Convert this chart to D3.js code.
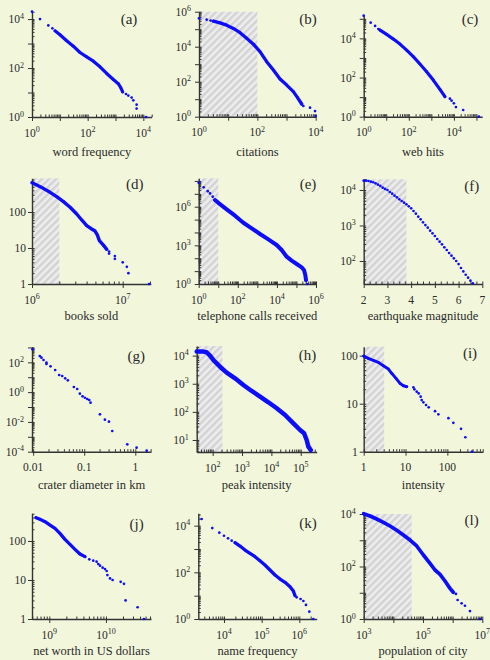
<!DOCTYPE html>
<html><head><meta charset="utf-8">
<script src="https://cdn.jsdelivr.net/npm/d3@7"></script>
<style>
html,body{margin:0;padding:0;background:#f2f7dc;}
svg{display:block;}
text{font-family:"Liberation Serif","Times New Roman",serif;fill:#2a2a2a;}
</style></head><body>
<svg id="chart" width="490" height="660"></svg>
<script>
// ---------- DATA ----------
// (a) word frequency
const wordCurve = [[6.7,3300],[10.1,2300],[17.6,1300],[30.5,784],[53,431],[92,287],[160,190],[277,112],[482,60],[836,34],[1260,23],[1535,16],[1810,10.6]];
const wordDots = [[1,20000],[1.94,10000],[3.86,5500],[5.4,4200],[2380,8.7],[2890,7.5],[3800,6.2],[4370,4.8],[5750,3.2],[5750,2.2],[12600,1]];
// (b) citations
const citeCurve = [[3.1,290000],[5.25,230000],[8.9,170000],[15,110000],[25.5,63000],[43,30000],[73,14000],[123,5200],[209,1390],[354,464],[598,142],[1014,64],[1715,27],[2350,12.7],[3310,5.3]];
const citeDots = [[1,420000],[1.83,350000],[2.5,310000],[3780,4.1],[6400,3.3],[9480,2.1],[10000,1.1]];
// (c) web hits
const webCurve = [[5.3,26600],[10.4,15900],[20.6,9200],[40.6,5100],[80,2500],[158,1160],[312,490],[617,199],[1216,74],[2400,25],[4000,10.5]];
const webDots = [[1,144000],[2.04,63000],[3.2,43000],[4.45,30000],[6650,8.3],[7900,6.6],[10000,4.8],[12300,3.1],[25800,2.2],[128000,1]];
// (d) books sold
const bookCurve = [[1.0e6,653],[1.126e6,562],[1.33e6,454],[1.58e6,352],[1.87e6,267],[2.22e6,194],[2.63e6,135],[3.11e6,88],[3.53e6,60],[4.01e6,41.7],[4.55e6,33.7],[4.95e6,29.6],[5.25e6,23],[5.53e6,16],[6.12e6,12],[6.67e6,9.2]];
const bookDots = [[7.07e6,8],[7.07e6,7],[8.2e6,6],[8.2e6,5],[1.0e7,4],[1.11e7,3],[1.155e7,2],[1.95e7,1]];
// (e) telephone calls received
const callCurve = [[6.8,3.3e6],[10.1,2.0e6],[27,6.2e5],[72,2.0e5],[192,5.7e4],[513,2.1e4],[1370,7600],[3650,2900],[9730,1060],[17500,434],[31600,132],[56900,65],[103000,35.5],[185000,19.6],[243000,12.2],[284000,5],[308000,2]];
const callDots = [[1,7.3e7],[1.8,3.2e7],[2.9,1.6e7],[3.8,1.08e7],[5.2,6.0e6],[360000,1]];
// (f) earthquake magnitude
const quakeMag = [2.0,2.1,2.2,2.3,2.4,2.5,2.6,2.7,2.8,2.9,3.0,3.1,3.2,3.3,3.4,3.5,3.6,3.7,3.8,3.9,4.0,4.1,4.2,4.3,4.4,4.5,4.6,4.7,4.8,4.9,5.0,5.1,5.2,5.3,5.4,5.5,5.6,5.7,5.8,5.9,6.0,6.1,6.2,6.3,6.4,6.5,6.6];
const quakeCount = [18300,18300,17900,17200,16500,15400,14100,13000,11600,10700,10000,8790,7890,6920,6210,5460,4900,4400,3950,3470,3050,2560,2150,1770,1490,1230,1030,869,715,601,506,417,351,295,243,204,168,141,119,100,82,63.5,51,41,34,28,23.5];
// (g) crater diameter in km
const craterDots = [[0.0097,741],[0.0135,263],[0.01456,204],[0.01596,143],[0.01825,95],[0.01825,77],[0.0219,54],[0.027,30.5],[0.0323,14.1],[0.0371,12.1],[0.0424,8.4],[0.0478,6.2],[0.0627,2.2],[0.0729,1.62],[0.0822,0.785],[0.0927,0.52],[0.103,0.42],[0.1145,0.344],[0.1253,0.295],[0.133,0.195],[0.203,0.0321],[0.254,0.0141],[0.305,0.01035],[0.354,0.00245],[0.697,0.000311],[1.06,0.000186],[1.67,0.000118]];
// (h) peak intensity
const flareCurve = [[28.5,13900],[48,13900],[62,13200],[81,10000],[105,7000],[137,5300],[203,3550],[300,2490],[577,1560],[1110,905],[2130,554],[4110,348],[7900,219],[15200,134],[29300,77.6],[56200,39.2],[95000,22.7],[130000,17.3],[159000,10],[182000,5.8],[219000,4.4]];
// (i) intensity
const warCurve = [[1,98.4],[1.29,88],[1.70,80],[2.24,72.6],[2.95,61.7],[3.89,52.7],[4.67,42.9],[5.93,33.7],[7.39,26.5],[8.88,23.7],[10.7,22.6]];
const warDots = [[15.4,21.9],[16.3,19.9],[18.5,17.8],[20.6,16.4],[23,14],[24.3,11.9],[26.7,10.7],[30.9,9.4],[35.8,8.4],[50.7,7],[61,6],[106,5],[139,4],[212,3],[269,2],[389,1]];
// (j) net worth in US dollars
const wealthCurve = [[5.82e8,396],[6.84e8,359],[8.4e8,313],[1.03e9,257],[1.26e9,211],[1.54e9,157],[1.89e9,110],[2.32e9,82],[2.84e9,61],[3.47e9,46.5],[4.26e9,39.7]];
const wealthDots = [[5.08e9,33.9],[5.97e9,31.3],[6.84e9,29.5],[7.32e9,25.7],[7.84e9,23.3],[8.73e9,20.7],[9.6e9,19.1],[1.03e10,17],[1.06e10,13.4],[1.18e10,11],[1.31e10,10],[1.82e10,9],[2.08e10,8],[2.22e10,3],[3.62e10,2],[4.68e10,1]];
// (k) name frequency
const nameCurve = [[19600,1870],[26600,1340],[36100,906],[49000,652],[66600,469],[90000,316],[122000,206],[166000,126],[226000,76.8],[307000,51.8],[417000,37.3],[565000,24.3],[693000,15.9],[767000,10]];
const nameDots = [[2550,19300],[4890,7900],[7520,5000],[10000,3700],[12800,2870],[16000,2270],[849000,8.5],[1080000,7.2],[1280000,5.9],[1500000,4],[1840000,2.06],[2350000,1]];
// (l) population of city
const cityCurve = [[1000,10300],[1630,8400],[2740,6450],[4600,4820],[7720,3490],[13000,2390],[21700,1590],[36500,1020],[61200,604],[103000,274],[172000,132],[254000,73.6],[374000,50.4],[552000,28],[813000,14.7],[1050000,10.4]];
const cityDots = [[1290000,9],[1470000,5.3],[2010000,3.95],[2600000,3.2],[3840000,2],[8340000,1]];

// tick labels
const xTickLabels = [[1,1e2,1e4],[1,1e2,1e4],[1,1e2,1e4],[1e6,1e7],[1,1e2,1e4,1e6],[2,3,4,5,6,7],[0.01,0.1,1],[1e2,1e3,1e4,1e5],[1,10,100],[1e9,1e10],[1e4,1e5,1e6],[1e3,1e5,1e7]];
const yTickLabels = [[1,1e2,1e4],[1,1e2,1e4,1e6],[1,1e2,1e4],[1,10,100],[1,1e3,1e6],[1e2,1e3,1e4],[1e-4,1e-2,1,1e2],[1e1,1e2,1e3,1e4],[1,10,100],[1,10,100],[1,1e2,1e4],[1,1e2,1e4]];
const axisTitles = ["word frequency","citations","web hits","books sold","telephone calls received","earthquake magnitude","crater diameter in km","peak intensity","intensity","net worth in US dollars","name frequency","population of city"];
const panelLetters = ["(a)","(b)","(c)","(d)","(e)","(f)","(g)","(h)","(i)","(j)","(k)","(l)"];
// axis ranges
const xDomains = [[1,2e4],[1,1e4],[1,1.8e5],[1e6,2.04e7],[1,1e6],[2,7],[0.0095,2.03],[28.5,3.5e5],[1,711],[4.95e8,6.24e10],[2080,2.89e6],[1e3,1e7]];
const yDomains = [[1,2e4],[1,1e6],[1,1.56e5],[1,863],[1,1.6e8],[22.5,2e4],[1e-4,1.12e3],[3.74,2.2e4],[1,154],[1,513],[1,3.39e4],[1,1e4]];
const hatchUpper = [null,100,null,2e6,10,3.8,null,215,3.1,null,null,4.15e4];

// ---------- LAYOUT ----------
const curves = [wordCurve,citeCurve,webCurve,bookCurve,callCurve,[],[],flareCurve,warCurve,wealthCurve,nameCurve,cityCurve];
const dotsets = [wordDots,citeDots,webDots,bookDots,callDots,quakeMag.map((m,i)=>[m,quakeCount[i]]),craterDots,[],warDots,wealthDots,nameDots,cityDots];
const layout = [
 {left:32,width:119.7,bottom:117,height:105.3,lw:3.2,lab:[129,24],ty:155.5,xf:"pow",yf:"pow"},
 {left:199,width:116.7,bottom:116.7,height:105,lw:3.3,lab:[308,24],ty:155.5,xf:"pow",yf:"pow"},
 {left:363.7,width:118.5,bottom:116.7,height:101.7,lw:3.2,lab:[470,24],ty:155.5,xf:"pow",yf:"pow"},
 {left:32,width:118.8,bottom:284,height:105.7,lw:3.4,lab:[134.7,189],ty:319.5,xf:"pow",yf:"plain"},
 {left:198.7,width:117.3,bottom:284,height:105.7,lw:4,lab:[308,189],ty:319.5,xf:"pow",yf:"pow"},
 {left:363.7,width:118.6,bottom:284,height:104.7,lw:3,lab:[471.7,191],ty:319.5,xf:"plain",yf:"pow",linear:true},
 {left:32,width:119,bottom:451.7,height:105,lw:3,lab:[136.3,361],ty:489,xf:"plain",yf:"pow"},
 {left:196.7,width:120,bottom:452,height:106,lw:4.5,lab:[307.5,360],ty:489,xf:"pow",yf:"pow"},
 {left:363.7,width:119.3,bottom:451.7,height:105,lw:3,lab:[470,358],ty:489,xf:"plain",yf:"plain"},
 {left:32,width:119,bottom:619,height:105.7,lw:3.3,lab:[136.7,528.5],ty:655,xf:"pow",yf:"plain"},
 {left:198.3,width:118.4,bottom:619,height:105.7,lw:3.3,lab:[308,528],ty:655,xf:"pow",yf:"pow"},
 {left:363.7,width:118.6,bottom:619,height:105,lw:3.7,lab:[471.7,525],ty:655,xf:"pow",yf:"pow"}
];
const BLUE = "#0d0dfa", AX = "#333";

const svg = d3.select("#chart");
const defs = svg.append("defs");
const pat = defs.append("pattern").attr("id","hatch").attr("patternUnits","userSpaceOnUse")
  .attr("width",5).attr("height",5).attr("patternTransform","rotate(45)");
pat.append("rect").attr("width",5).attr("height",5).attr("fill","#eeeeee");
pat.append("rect").attr("width",2.5).attr("height",5).attr("fill","#d3d3d3");

function logTicks(d){
  const out=[]; const e0=Math.floor(Math.log10(d[0]))-1, e1=Math.ceil(Math.log10(d[1]));
  for(let e=e0;e<=e1;e++) for(let k=1;k<10;k++){
    const v=+(k*Math.pow(10,e)).toPrecision(6);
    if(v>=d[0]*0.999 && v<=d[1]*1.001) out.push({v,major:k===1});
  }
  return out;
}
function linTicks(d){
  const out=[]; for(let v=d[0]; v<=d[1]+1e-9; v+=0.25){ const r=+v.toFixed(2); out.push({v:r,major:Math.abs(r-Math.round(r))<1e-9}); }
  return out;
}
function writeLabel(t, v, fmt){
  if(fmt==="pow"){
    const e=Math.round(Math.log10(v));
    t.append("tspan").text("10");
    t.append("tspan").attr("dy",-4.5).attr("font-size",8).text(e<0?"-"+(-e):String(e));
  } else t.text(String(v));
}

layout.forEach((L,i)=>{
  const g = svg.append("g");
  const x = (L.linear?d3.scaleLinear():d3.scaleLog()).domain(xDomains[i]).range([L.left,L.left+L.width]);
  const y = d3.scaleLog().domain(yDomains[i]).range([L.bottom,L.bottom-L.height]);
  // hatch
  if(hatchUpper[i]!==null){
    g.append("rect").attr("x",x(xDomains[i][0])).attr("y",y(yDomains[i][1]))
      .attr("width",x(hatchUpper[i])-x(xDomains[i][0])).attr("height",L.height).attr("fill","url(#hatch)");
  }
  // axes
  const xt = L.linear?linTicks(xDomains[i]):logTicks(xDomains[i]);
  const yt = logTicks(yDomains[i]);
  const gx = g.append("g").attr("transform",`translate(0,${L.bottom})`);
  gx.call(d3.axisBottom(x).tickValues(xt.map(d=>d.v)).tickSize(-2.5).tickFormat("")).select(".domain").remove();
  gx.append("g").call(d3.axisBottom(x).tickValues(xt.filter(d=>d.major).map(d=>d.v)).tickSizeInner(4).tickSizeOuter(0).tickFormat(""));
  const gy = g.append("g").attr("transform",`translate(${L.left},0)`);
  gy.call(d3.axisLeft(y).tickValues(yt.map(d=>d.v)).tickSize(-2.5).tickFormat("")).select(".domain").remove();
  gy.append("g").call(d3.axisLeft(y).tickValues(yt.filter(d=>d.major).map(d=>d.v)).tickSizeInner(4).tickSizeOuter(0).tickFormat(""));
  g.selectAll(".tick line").attr("stroke",AX).attr("stroke-width",1);
  g.selectAll(".domain").attr("stroke",AX).attr("stroke-width",1.4);
  // tick labels
  xTickLabels[i].forEach(v=>{
    const t=g.append("text").attr("x",x(v)).attr("y",L.bottom+19.5).attr("text-anchor","middle").attr("font-size",11.5);
    writeLabel(t,v,L.xf);
  });
  yTickLabels[i].forEach(v=>{
    const t=g.append("text").attr("x",L.left-(L.yf==="pow"?8:6)).attr("y",y(v)+4.2).attr("text-anchor","end").attr("font-size",11.5);
    writeLabel(t,v,L.yf);
  });
  // title and letter
  g.append("text").attr("x",L.left+L.width/2).attr("y",L.ty).attr("text-anchor","middle").attr("font-size",12.5).text(axisTitles[i]);
  g.append("text").attr("x",L.lab[0]).attr("y",L.lab[1]).attr("text-anchor","middle").attr("font-size",15).text(panelLetters[i]);
  // data
  if(curves[i].length){
    g.append("path").datum(curves[i])
      .attr("d",d3.line().x(d=>x(d[0])).y(d=>y(d[1])))
      .attr("fill","none").attr("stroke",BLUE).attr("stroke-width",L.lw)
      .attr("stroke-linecap","round").attr("stroke-linejoin","round");
  }
  g.selectAll("circle.pt").data(curves[i].concat(dotsets[i])).join("circle")
    .attr("cx",d=>x(d[0])).attr("cy",d=>y(d[1])).attr("r",1.35).attr("fill",BLUE);
});
</script>
</body></html>
